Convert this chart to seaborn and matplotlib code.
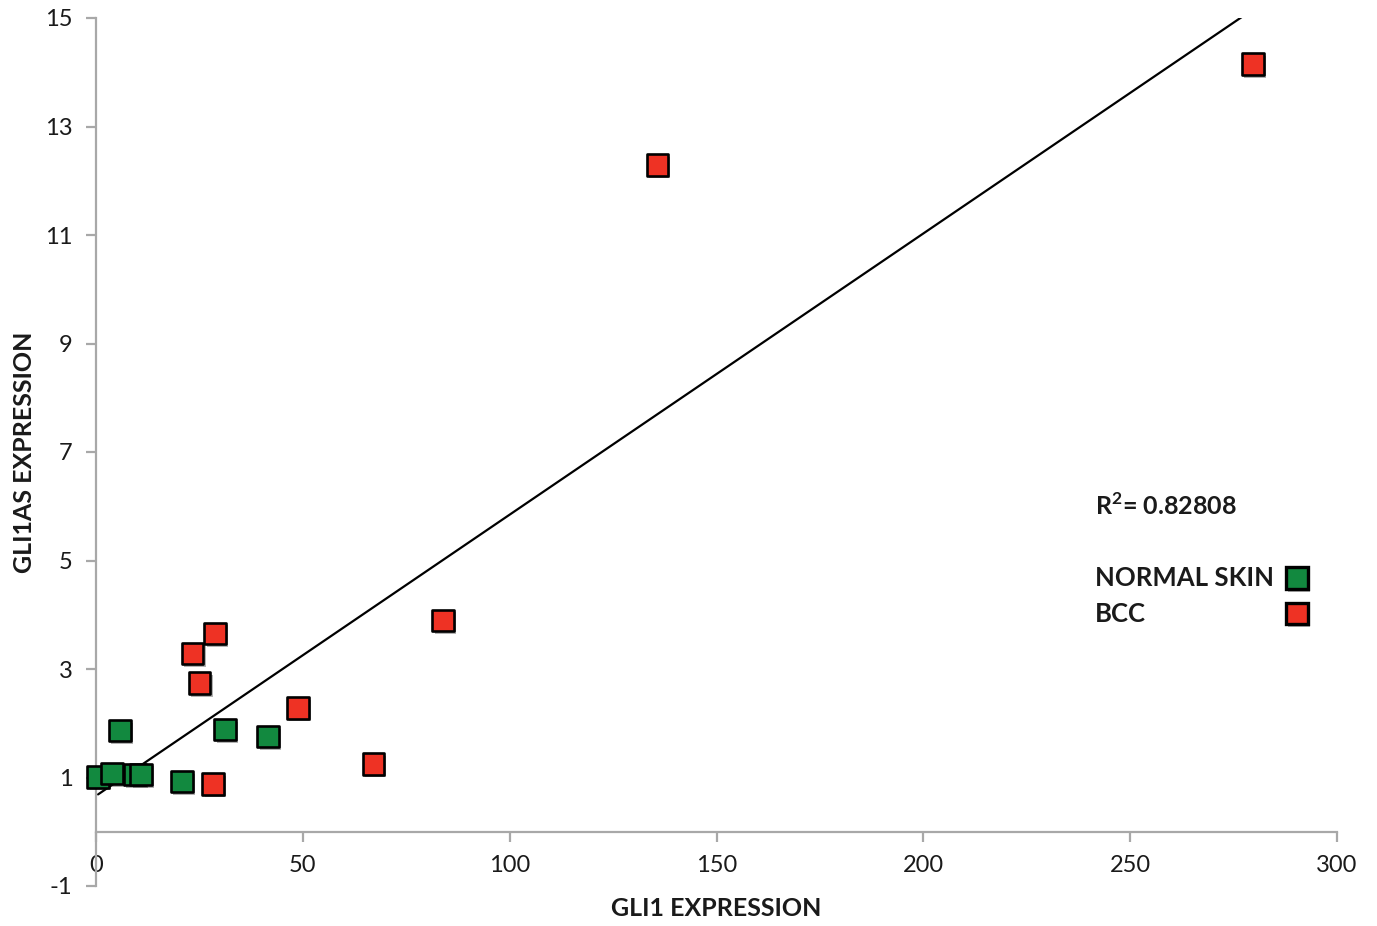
import numpy as np
import pandas as pd
import matplotlib
matplotlib.use("Agg")
import matplotlib.pyplot as plt
import matplotlib.patheffects as pe
from matplotlib.lines import Line2D
import seaborn as sns

# ---- data ----
normal_x = [0.5, 3.9, 9.4, 10.9, 5.8, 20.8, 31.2, 41.6]
normal_y = [1.01, 1.08, 1.06, 1.06, 1.86, 0.92, 1.88, 1.75]
bcc_x = [28.8, 23.4, 25.1, 48.8, 28.3, 67.0, 83.9, 135.8, 279.7]
bcc_y = [3.66, 3.28, 2.74, 2.28, 0.88, 1.25, 3.90, 12.29, 14.15]
groups = ["NORMAL SKIN", "BCC"]
x_ticks = [0, 50, 100, 150, 200, 250, 300]
y_ticks = [-1, 1, 3, 5, 7, 9, 11, 13, 15]
r2_text = "R$^{\\mathbf{2}}$= 0.82808"

GREEN = "#12893F"
RED = "#EE3224"
AXGREY = "#A8A8A8"
TXT = "#1a1a1a"

df = pd.DataFrame({
    "GLI1": normal_x + bcc_x,
    "GLI1AS": normal_y + bcc_y,
    "group": [groups[0]] * len(normal_x) + [groups[1]] * len(bcc_x),
})

sns.set_theme(style="white")
plt.rcParams["font.family"] = ["Lato", "DejaVu Sans"]
plt.rcParams["mathtext.fontset"] = "custom"
plt.rcParams["mathtext.rm"] = "Lato"
plt.rcParams["mathtext.bf"] = "Lato:bold"

fig = plt.figure(figsize=(13.77, 9.26), dpi=100)
ax = fig.add_axes([96 / 1377, 1 - 886 / 926, (1337 - 96) / 1377, (886 - 18) / 926])

shadow = [pe.SimplePatchShadow(offset=(1.5, -2), shadow_rgbFace="black", alpha=0.3),
          pe.Normal()]

# trend line over all points
sns.regplot(data=df, x="GLI1", y="GLI1AS", scatter=False, ci=None, ax=ax,
            line_kws=dict(color="black", lw=1.6, zorder=2))

sns.scatterplot(data=df, x="GLI1", y="GLI1AS", hue="group",
                palette={groups[0]: GREEN, groups[1]: RED},
                marker="s", s=235, edgecolor="black", linewidth=1.9,
                legend=False, ax=ax, zorder=3, clip_on=False)
for coll in ax.collections:
    coll.set_path_effects(shadow)

ax.set_xlim(0, 300)
ax.set_ylim(-1, 15)
ax.set_xticks(x_ticks)
ax.set_yticks(y_ticks)
ax.set_xticklabels([str(t) for t in x_ticks])
ax.set_yticklabels([str(t) for t in y_ticks])

for s in ["top", "right"]:
    ax.spines[s].set_visible(False)
for s in ["left", "bottom"]:
    ax.spines[s].set_color(AXGREY)
    ax.spines[s].set_linewidth(1.6)
ax.spines["bottom"].set_position(("data", 0))

ax.tick_params(axis="both", colors=AXGREY, width=1.6, length=7, direction="out",
               labelcolor=TXT, labelsize=17)
ax.tick_params(axis="x", pad=10)
ax.tick_params(axis="y", pad=10)
ax.tick_params(left=True, bottom=True)

ax.set_xlabel("")
ax.set_ylabel("GLI1AS EXPRESSION", fontsize=18, fontweight="bold", color=TXT)
ax.yaxis.set_label_coords(-0.048, 0.5)
fig.text(716 / 1377, 1 - 908 / 926, "GLI1 EXPRESSION", ha="center", va="center",
         fontsize=18, fontweight="bold", color=TXT)

# annotation and legend
fig.text(1095 / 1377, 1 - 506 / 926, r2_text, ha="left", va="center",
         fontsize=18, fontweight="bold", color=TXT)
fig.text(1095 / 1377, 1 - 578 / 926, groups[0], ha="left", va="center",
         fontsize=18.5, fontweight="bold", color=TXT)
fig.text(1095 / 1377, 1 - 614 / 926, groups[1], ha="left", va="center",
         fontsize=18.5, fontweight="bold", color=TXT)

handles = [Line2D([], [], ls="none", marker="s", markersize=15.5,
                  markerfacecolor=c, markeredgecolor="black", markeredgewidth=2.4)
           for c in (GREEN, RED)]
leg = ax.legend(handles, ["", ""], frameon=False, loc="center",
                bbox_to_anchor=(1297 / 1377, 1 - 597 / 926),
                bbox_transform=fig.transFigure, handlelength=1.0,
                handletextpad=0, labelspacing=0.5, borderpad=0, fontsize=18)
for h in leg.legend_handles:
    h.set_path_effects(shadow)

fig.savefig("out.png", dpi=100, facecolor="white")
